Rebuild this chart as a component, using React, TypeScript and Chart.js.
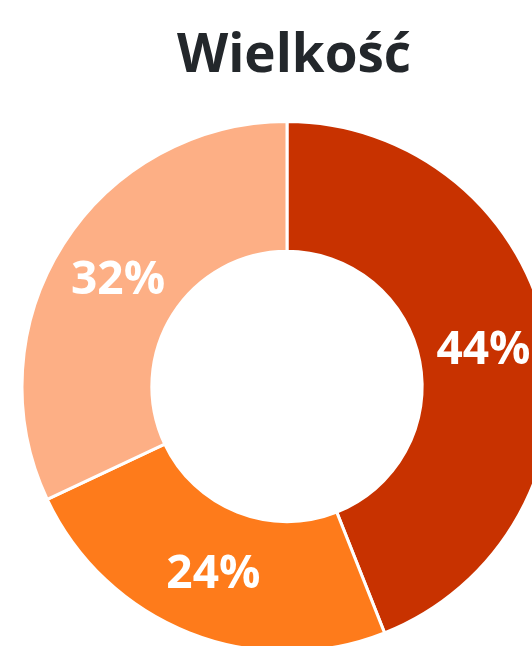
import React, { useEffect, useRef } from "react";
import { Chart, registerables } from "chart.js";

Chart.register(...registerables);

const titleText = "Wielkość";
const categories = ["A", "B", "C"];
const values = [44, 24, 32];
const colors = ["#C83200", "#FE7B1B", "#FDAF85"];

const labelPlugin = {
  id: "pctLabels",
  afterDatasetsDraw(chart: any) {
    const ctx = chart.ctx;
    const meta = chart.getDatasetMeta(0);
    ctx.save();
    ctx.fillStyle = "#FFFFFF";
    ctx.font = "bold 46px 'Open Sans'";
    ctx.textAlign = "center";
    ctx.textBaseline = "middle";
    meta.data.forEach((arc: any, i: number) => {
      const p = arc.tooltipPosition();
      ctx.fillText(values[i] + "%", p.x, p.y + 2);
    });
    ctx.restore();
    ctx.save();
    ctx.fillStyle = "#23272B";
    ctx.font = "bold 53px 'Open Sans'";
    ctx.textAlign = "center";
    ctx.textBaseline = "alphabetic";
    ctx.fillText(titleText, 294, 72);
    ctx.restore();
  },
};

export default function App() {
  const ref = useRef<HTMLCanvasElement | null>(null);
  useEffect(() => {
    if (!ref.current) return;
    const chart = new Chart(ref.current, {
      type: "doughnut",
      data: {
        labels: categories,
        datasets: [
          {
            data: values,
            backgroundColor: colors,
            borderColor: "#FFFFFF",
            borderWidth: 3,
          },
        ],
      },
      options: {
        responsive: false,
        animation: false,
        cutout: "51%",
        layout: { padding: { left: 20, right: 20, top: 120, bottom: 0 } },
        plugins: {
          legend: { display: false },
          tooltip: { enabled: false },
          title: { display: false },
        },
      },
      plugins: [labelPlugin],
    });
    return () => chart.destroy();
  }, []);
  return (
    <div style={{ position: "absolute", left: 0, top: 0 }}>
      <canvas ref={ref} width={574} height={653} style={{ display: "block" }} />
    </div>
  );
}
